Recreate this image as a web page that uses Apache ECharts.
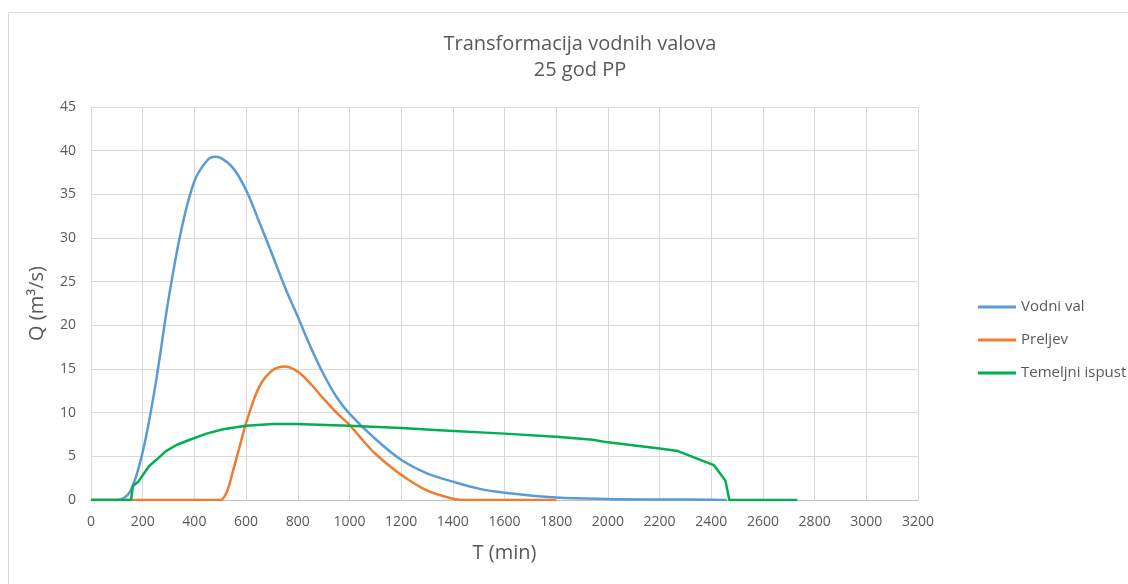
<!DOCTYPE html>
<html>
<head>
<meta charset="utf-8">
<script src="https://cdn.jsdelivr.net/npm/echarts@6/dist/echarts.min.js"></script>
<style>
html,body{margin:0;padding:0;background:#fff;}
#c{width:1128px;height:584px;}
</style>
</head>
<body>
<div id="c"></div>
<script>
// Vodni val (inflow hydrograph)
var valT = [0, 50, 100, 150, 200, 250, 300, 350, 400, 450, 480, 500, 550, 600, 650, 700, 750, 800, 850, 900, 950, 1000, 1100, 1200, 1300, 1400, 1500, 1600, 1800, 2000, 2200, 2400, 2460];
var valQ = [0, 0, 0, 0.9, 5.5, 13.3, 23.0, 31.0, 36.5, 38.9, 39.3, 39.2, 38.0, 35.5, 31.9, 28.2, 24.4, 21.0, 17.5, 14.4, 11.8, 9.9, 7.0, 4.6, 3.05, 2.1, 1.3, 0.84, 0.3, 0.12, 0.06, 0.03, 0];
// Preljev (spillway)
var prelT = [0, 400, 450, 500, 525, 550, 575, 600, 650, 700, 750, 800, 850, 900, 950, 1000, 1050, 1100, 1200, 1300, 1400, 1450, 1800];
var prelQ = [0, 0, 0, 0, 0.9, 3.4, 6.1, 8.8, 12.9, 14.8, 15.3, 14.7, 13.3, 11.6, 10.0, 8.6, 6.9, 5.3, 2.9, 1.1, 0.15, 0, 0];
// Temeljni ispust (bottom outlet)
var temT = [0, 155, 162, 183, 225, 253, 290, 331, 382, 447, 511, 600, 705, 795, 1000, 1200, 1349, 1600, 1800, 1942, 2000, 2200, 2271, 2410, 2455, 2470, 2733];
var temQ = [0, 0, 1.6, 2.1, 3.9, 4.6, 5.6, 6.3, 6.9, 7.6, 8.1, 8.5, 8.7, 8.7, 8.5, 8.25, 8.0, 7.6, 7.25, 6.9, 6.6, 5.9, 5.6, 4.0, 2.2, 0, 0];

var seriesNames = ['Vodni val', 'Preljev', 'Temeljni ispust'];
var colors = ['#5B9BD5', '#ED7D31', '#00B050'];

function pairs(t, q) { return t.map(function (v, i) { return [v, q[i]]; }); }

var font = 'Open Sans';
var chart = echarts.init(document.getElementById('c'), null, {renderer: 'canvas'});
chart.setOption({
  animation: false,
  color: colors,
  textStyle: {fontFamily: font},
  title: {
    text: 'Transformacija vodnih valova\n25 god PP',
    left: 575, top: 26, textAlign: 'center',
    textStyle: {fontFamily: font, fontSize: 20, fontWeight: 'normal', color: '#595959', lineHeight: 26}
  },
  graphic: [{
    type: 'rect', silent: true, z: -1,
    shape: {x: 8.5, y: 12.5, width: 1200, height: 700},
    style: {fill: 'none', stroke: '#D9D9D9', lineWidth: 1}
  }],
  legend: {
    orient: 'vertical', left: 973, top: 293, itemWidth: 38, itemHeight: 3, itemGap: 15,
    icon: 'rect',
    textStyle: {fontFamily: font, fontSize: 15, color: '#595959', lineHeight: 18},
    data: seriesNames
  },
  grid: {left: 91, top: 107, width: 827, height: 393, containLabel: false},
  xAxis: {
    type: 'value', min: 0, max: 3200, interval: 200,
    name: 'T (min)', nameLocation: 'middle', nameGap: 43,
    nameTextStyle: {fontFamily: font, fontSize: 20, color: '#595959'},
    axisLine: {show: true, lineStyle: {color: '#BFBFBF', width: 1}},
    axisTick: {show: false},
    axisLabel: {fontFamily: font, fontSize: 14, color: '#595959', margin: 15, formatter: function (v) { return String(v); }},
    splitLine: {show: true, lineStyle: {color: '#D9D9D9', width: 1}}
  },
  yAxis: {
    type: 'value', min: 0, max: 45, interval: 5,
    name: 'Q (m³/s)', nameLocation: 'middle', nameGap: 44,
    nameTextStyle: {fontFamily: font, fontSize: 20, color: '#595959'},
    axisLine: {show: true, lineStyle: {color: '#D9D9D9', width: 1}},
    axisTick: {show: false},
    axisLabel: {fontFamily: font, fontSize: 14, color: '#595959', margin: 15},
    splitLine: {show: true, lineStyle: {color: '#D9D9D9', width: 1}}
  },
  series: [
    {name: seriesNames[0], type: 'line', data: pairs(valT, valQ), showSymbol: false, symbol: 'none', smooth: 0.35, lineStyle: {width: 2.5, color: colors[0]}, z: 2},
    {name: seriesNames[1], type: 'line', data: pairs(prelT, prelQ), showSymbol: false, symbol: 'none', smooth: 0.35, lineStyle: {width: 2.5, color: colors[1]}, z: 3},
    {name: seriesNames[2], type: 'line', data: pairs(temT, temQ), showSymbol: false, symbol: 'none', smooth: false, lineStyle: {width: 2.5, color: colors[2]}, z: 4}
  ]
});
</script>
</body>
</html>
